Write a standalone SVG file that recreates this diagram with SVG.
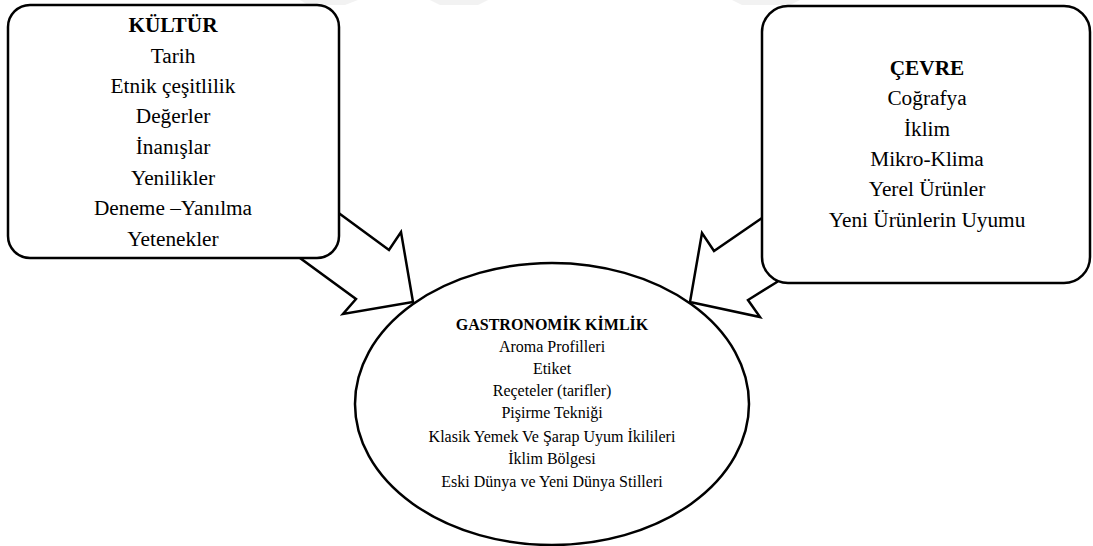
<svg xmlns="http://www.w3.org/2000/svg" width="1093" height="546" viewBox="0 0 1093 546">
  <style>
    .shape { fill: #fff; stroke: #000; stroke-width: 2.5; stroke-linejoin: miter; }
    .txt { fill: #000; text-anchor: middle; }
    .big { font-size: 21.3px; }
    .small { font-size: 16px; }
    .b { font-weight: bold; }
    .mark { fill: #f2f2f2; }
  </style>

  <!-- faint page marks along the top edge -->
  <g id="page-marks">
    <polygon class="mark" points="300,0 358,0 345,5 308,5"/>
    <polygon class="mark" points="430,0 488,0 478,5 440,5"/>
    <polygon class="mark" points="732,0 800,0 790,5 742,5"/>
  </g>

  <!-- block arrows feeding the central ellipse -->
  <g id="connectors">
    <polygon class="shape" points="340,214 389,250 401,232 413,302 343,314 356,299 300,258"/>
    <polygon class="shape" points="762,218 714,251 702,233 690,302 760,317 748,300 777,282"/>
  </g>

  <g id="kultur" font-family="'Liberation Serif', 'Times New Roman', serif">
    <rect class="shape" x="8" y="5" width="331" height="253" rx="22" ry="22"/>
    <text class="txt big b" x="173" y="32">KÜLTÜR</text>
    <text class="txt big" x="173" y="63">Tarih</text>
    <text class="txt big" x="173" y="93">Etnik çeşitlilik</text>
    <text class="txt big" x="173" y="123">Değerler</text>
    <text class="txt big" x="173" y="154">İnanışlar</text>
    <text class="txt big" x="173" y="185">Yenilikler</text>
    <text class="txt big" x="173" y="215">Deneme –Yanılma</text>
    <text class="txt big" x="173" y="246">Yetenekler</text>
  </g>

  <g id="cevre" font-family="'Liberation Serif', 'Times New Roman', serif">
    <rect class="shape" x="762" y="6" width="328" height="277" rx="26" ry="26"/>
    <text class="txt big b" x="927" y="75">ÇEVRE</text>
    <text class="txt big" x="927" y="105">Coğrafya</text>
    <text class="txt big" x="927" y="136">İklim</text>
    <text class="txt big" x="927" y="166">Mikro-Klima</text>
    <text class="txt big" x="927" y="196">Yerel Ürünler</text>
    <text class="txt big" x="927" y="227">Yeni Ürünlerin Uyumu</text>
  </g>

  <g id="gastronomik-kimlik" font-family="'Liberation Serif', 'Times New Roman', serif">
    <ellipse class="shape" cx="552" cy="404" rx="197" ry="141"/>
    <text class="txt small b" x="552" y="330">GASTRONOMİK KİMLİK</text>
    <text class="txt small" x="552" y="352">Aroma Profilleri</text>
    <text class="txt small" x="552" y="374">Etiket</text>
    <text class="txt small" x="552" y="396">Reçeteler (tarifler)</text>
    <text class="txt small" x="552" y="418">Pişirme Tekniği</text>
    <text class="txt small" x="552" y="442">Klasik Yemek Ve Şarap Uyum İkilileri</text>
    <text class="txt small" x="552" y="464">İklim Bölgesi</text>
    <text class="txt small" x="552" y="487">Eski Dünya ve Yeni Dünya Stilleri</text>
  </g>
</svg>
